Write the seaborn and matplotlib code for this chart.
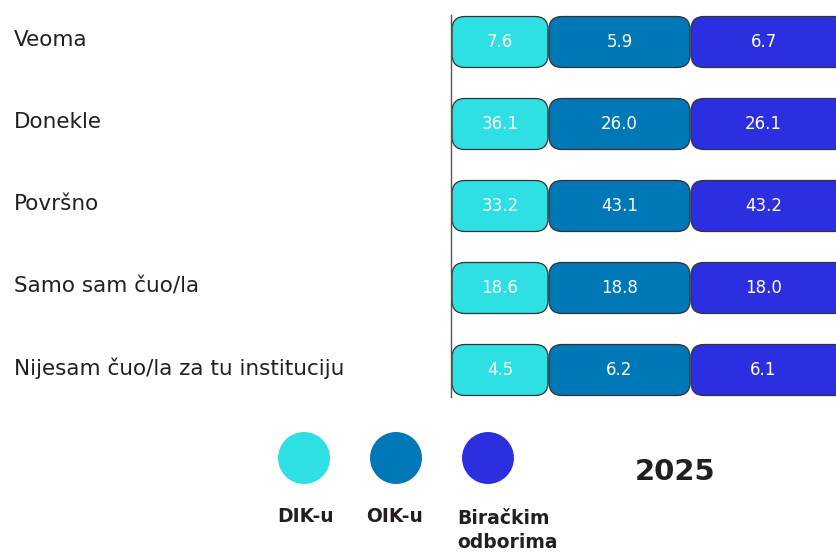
import numpy as np
import pandas as pd
import matplotlib
matplotlib.use("Agg")
import matplotlib.pyplot as plt
import matplotlib.transforms as mtransforms
import seaborn as sns
from matplotlib.patches import FancyBboxPatch

# ---- data ----
categories = ["Veoma", "Donekle", "Površno", "Samo sam čuo/la",
              "Nijesam čuo/la za tu instituciju"]
series = ["DIK-u", "OIK-u", "Biračkim\nodborima"]
dik = [7.6, 36.1, 33.2, 18.6, 4.5]
oik = [5.9, 26.0, 43.1, 18.8, 6.2]
bir = [6.7, 26.1, 43.2, 18.0, 6.1]
year = "2025"

# ---- style ----
colors = ["#2EDFE3", "#0077B6", "#2B2FE0"]
text_dark = "#231F20"
sns.set_theme(style="white")
plt.rcParams['font.family'] = ['DejaVu Sans']

W, H = 836, 554
fig = plt.figure(figsize=(W / 100, H / 100), dpi=100)

# main tile axes (x in pixels, y in category units)
ax = fig.add_axes([451 / W, 1 - 397 / H, (836 - 451) / W, (397 - 15) / H])
pitch = 82.0
ax.set_xlim(0, 385)
ax.set_ylim(4 + 27 / pitch, -27 / pitch)

col_starts = [1, 98, 240]
col_widths = [96, 141, 170]
tile_h = 51 / pitch
values = [dik, oik, bir]

for j, (vals, c) in enumerate(zip(values, colors)):
    for i, v in enumerate(vals):
        box = FancyBboxPatch((col_starts[j], i - tile_h / 2), col_widths[j], tile_h,
                             boxstyle="round,pad=0,rounding_size=13",
                             mutation_aspect=1 / pitch,
                             facecolor=c, edgecolor="#333333", linewidth=0.9,
                             clip_on=True)
        ax.add_patch(box)
        xc = col_starts[j] + (col_widths[j] if j < 2 else 145) / 2
        ax.text(xc, i, f"{v:.1f}", color="white", ha="center", va="center",
                fontsize=12)

ax.set_yticks(range(len(categories)), categories)
ax.set_xticks([])
ax.tick_params(axis='y', length=0, pad=315, labelsize=15.5, labelcolor=text_dark)
shift = mtransforms.ScaledTranslation(0, 4 / 100, fig.dpi_scale_trans)
for lab in ax.get_yticklabels():
    lab.set_ha('left')
    lab.set_transform(lab.get_transform() + shift)
for s in ["top", "right", "bottom"]:
    ax.spines[s].set_visible(False)
ax.spines["left"].set_color("#555555")
ax.spines["left"].set_linewidth(1.0)

# legend overlay
lax = fig.add_axes([0, 0, 1, 1])
lax.set_xlim(0, W)
lax.set_ylim(H, 0)
lax.axis("off")
leg = pd.DataFrame({"x": [304, 396, 488], "y": [458, 458, 458], "s": series})
sns.scatterplot(data=leg, x="x", y="y", hue="s", palette=colors, s=1400,
                linewidth=0, legend=False, ax=lax)
lax.set_xlabel("")
lax.set_ylabel("")
for (lx, ly), name in zip([(277, 507), (366, 507), (457, 509)], series):
    lax.text(lx, ly, name, ha="left", va="top", fontsize=13.5,
             fontweight="bold", color=text_dark, linespacing=1.3)
lax.text(675, 472, year, ha="center", va="center", fontsize=21,
         fontweight="bold", color=text_dark)

fig.savefig("out.png", dpi=100)
